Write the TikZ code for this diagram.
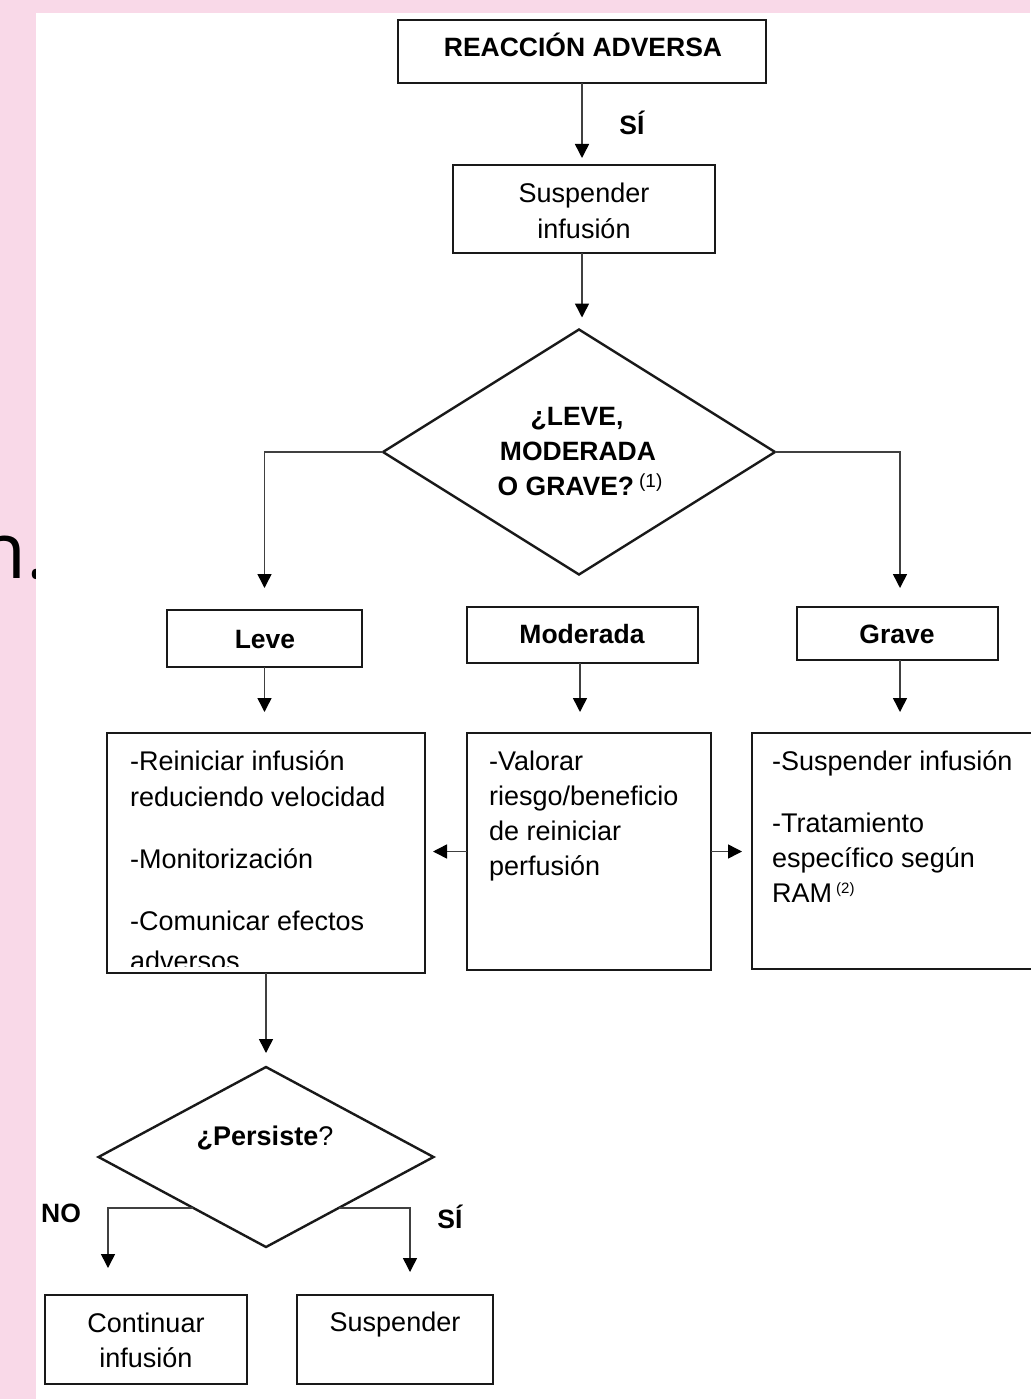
\documentclass[tikz,border=0pt]{standalone}
\usepackage{fontspec}
\setmainfont{Liberation Sans}
\newfontfamily\osfont{Open Sans}
\usetikzlibrary{shapes.geometric,arrows.meta,calc}
\definecolor{pinkbg}{RGB}{249,217,232}
\begin{document}
\begin{tikzpicture}[x=1pt,y=-1pt,
  box/.style={draw=black!90, line width=2.4pt, rectangle, inner sep=0pt, outer sep=0pt},
  dia/.style={draw=black!90, line width=2.4pt, diamond, inner sep=0pt, outer sep=0pt},
  arr/.style={draw=black!75, line width=1.5pt, -{Triangle[width=14pt,length=14pt,color=black]}},
  txt/.style={inner sep=0pt, font=\fontsize{27}{35}\selectfont},
  btxt/.style={inner sep=0pt, font=\fontsize{26.5}{35}\selectfont\bfseries},
  lt/.style={txt, anchor=base west},
  ct/.style={txt, anchor=base},
  cb/.style={btxt, anchor=base}]
\useasboundingbox (0,0) rectangle (1030,1399);
% background
\fill[pinkbg] (0,0) rectangle (1030,1399);
\node[anchor=base east, inner sep=0pt, font=\osfont\fontsize{78}{78}\selectfont] (frag) at (47,578) {n.};
\fill[white] (36,13) rectangle (1030,1399);

% top boxes
\node[box, minimum width=368pt, minimum height=63pt] (b1) at (582,51.5) {};
\node[cb] (t1) at (583,57) {REACCIÓN ADVERSA};
\node[box, minimum width=262pt, minimum height=88pt] (b2) at (584,209) {};
\node[ct] (t2a) at (584,203) {Suspender};
\node[ct] (t2b) at (584,238) {infusión};
\node[cb] (si1) at (632,135) {SÍ};

% decision 1
\node[dia, minimum width=392pt, minimum height=245pt] (d1) at (579,452) {};
\node[cb] (d1a) at (577,425) {¿LEVE,};
\node[cb] (d1b) at (578,460) {MODERADA};
\node[cb] (d1c) at (580,495) {O GRAVE?\hspace{5pt}\raisebox{8pt}{\mdseries\fontsize{19}{19}\selectfont(1)}};

% severity boxes
\node[box, minimum width=195pt, minimum height=57pt] (leve) at (264.5,638.5) {};
\node[cb] (tl) at (265,648) {Leve};
\node[box, minimum width=231pt, minimum height=56pt] (mod) at (582.5,635) {};
\node[cb] (tm) at (582,643) {Moderada};
\node[box, minimum width=201pt, minimum height=53pt] (grave) at (897.5,633.5) {};
\node[cb] (tg) at (897,643) {Grave};

% action boxes
\node[box, minimum width=318pt, minimum height=240pt] (lbox) at (266,853) {};
\node[box, minimum width=244pt, minimum height=237pt] (mbox) at (589,851.5) {};
\node[box, minimum width=293pt, minimum height=236pt] (rbox) at (898.5,851) {};

\begin{scope}
\clip (108,734) rectangle (424,966);
\node[lt] (l1) at (130,770) {-Reiniciar infusión};
\node[lt] (l2) at (130,806) {reduciendo velocidad};
\node[lt] (l3) at (130,868) {-Monitorización};
\node[lt] (l4) at (130,930) {-Comunicar efectos};
\node[lt] (l5) at (130,970) {adversos};
\end{scope}

\node[lt] (m1) at (489,770) {-Valorar};
\node[lt] (m2) at (489,805) {riesgo/beneficio};
\node[lt] (m3) at (489,840) {de reiniciar};
\node[lt] (m4) at (489,875) {perfusión};

\node[lt] (r1) at (772,770) {-Suspender infusión};
\node[lt] (r2) at (772,832) {-Tratamiento};
\node[lt] (r3) at (772,867) {específico según};
\node[lt] (r4) at (772,902) {RAM\hspace{4pt}\raisebox{9pt}{\fontsize{15}{15}\selectfont(2)}};

% decision 2
\node[dia, minimum width=335pt, minimum height=180pt] (d2) at (266,1157) {};
\node[ct] (tp) at (265,1145) {\textbf{¿Persiste}?};

% final boxes
\node[box, minimum width=202pt, minimum height=89pt] (cont) at (146,1339.5) {};
\node[ct] (tc1) at (146,1332) {Continuar};
\node[ct] (tc2) at (146,1367) {infusión};
\node[box, minimum width=196pt, minimum height=89pt] (susp) at (395,1339.5) {};
\node[ct] (ts) at (395,1331) {Suspender};

\node[cb] (no) at (61,1222) {NO};
\node[cb] (si2) at (450,1228) {SÍ};

% coordinates
\coordinate (c12) at ($(b2.north)+(0,-7)$);
\coordinate (cd1) at ($(d1.north)+(0,-12)$);
\coordinate (cleve) at ($(leve.north)+(0,-22)$);
\coordinate (cgrave) at ($(grave.north)+(2.5,-19)$);
\coordinate (clbox) at ($(lbox.north)+(0,-21)$);
\coordinate (cmbox) at ($(mbox.north)+(-9,-21)$);
\coordinate (crbox) at ($(rbox.north)+(1.5,-21)$);
\coordinate (cll) at ($(lbox.east)+(8,0)$);
\coordinate (crr) at ($(rbox.west)+(-10,0)$);
\coordinate (cd2) at ($(d2.north)+(0,-14)$);
\coordinate (nostart) at ($(d2.west)!0.567!(d2.south)$);
\coordinate (siend) at ($(d2.east)!0.567!(d2.south)$);
\coordinate (noend) at ($(cont.north)+(-38,-27)$);
\coordinate (siend2) at ($(susp.north)+(15,-23)$);

% connectors
\draw[arr] (b1.south) -- (b1.south |- c12);
\draw[arr] ([xshift=-2pt]b2.south) -- ([xshift=-2pt]b2.south |- cd1);
\draw[arr] (d1.west) -| (cleve);
\draw[arr] (d1.east) -| (cgrave);
\draw[arr] (leve.south) -- (leve.south |- clbox);
\draw[arr] ([xshift=-2.5pt]mod.south) -- (cmbox);
\draw[arr] ([xshift=2.5pt]grave.south) -- (crbox);
\draw[arr] (mbox.west) -- (mbox.west -| cll);
\draw[arr] (mbox.east) -- (mbox.east -| crr);
\draw[arr] (lbox.south) -- (cd2);
\draw[arr] (nostart) -| (noend);
\draw[arr] (siend) -| (siend2);
\end{tikzpicture}
\end{document}
